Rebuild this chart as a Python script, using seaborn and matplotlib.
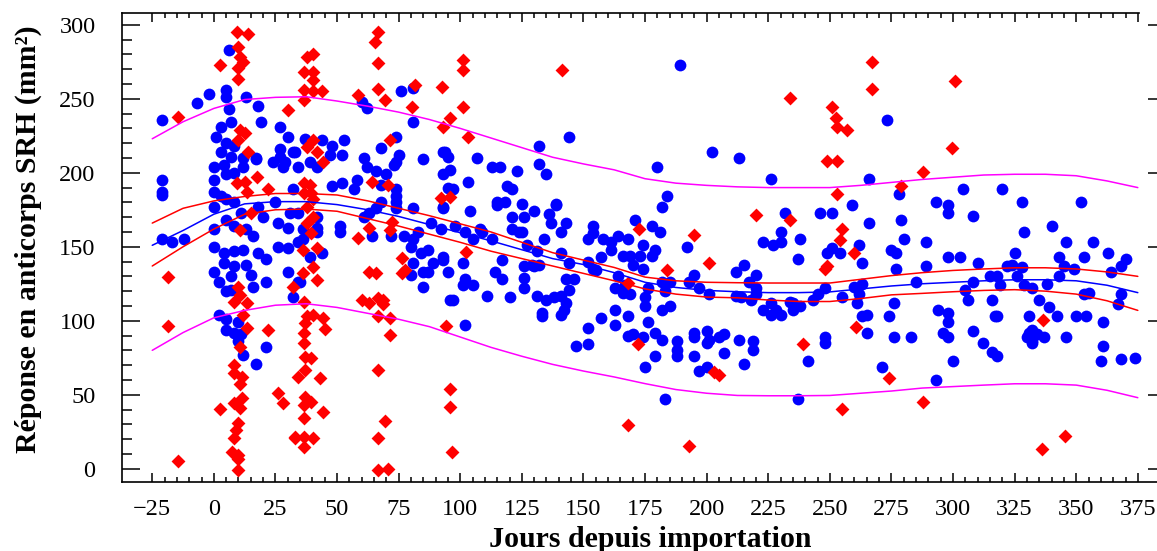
import numpy as np
import pandas as pd
import matplotlib
matplotlib.use("Agg")
import matplotlib.pyplot as plt
from matplotlib.ticker import MultipleLocator, FixedLocator
import seaborn as sns

sns.set_style("ticks")
plt.rcParams['font.family'] = ['Liberation Serif', 'DejaVu Serif']
plt.rcParams['text.color'] = 'black'
plt.rcParams['axes.labelcolor'] = 'black'
plt.rcParams['xtick.color'] = 'black'
plt.rcParams['ytick.color'] = 'black'
plt.rcParams['axes.edgecolor'] = 'black'

# --- points bleus (cercles) : jours, réponse ---
blue_days = [
    6, -7, -2, 5, 5, 13, 18, -21, 6, 19, 3, 7, 1, 27, 30, 5, 8, 3, 7, 12, 17, 27, 32, 24, 29,
    0, 4, 8, 5, -21, 0, -21, -21, 0, 3, 5, 0, 8, 11, 18, 25, 0, 5, 8, 13, 20, 16, -21, -17, -12,
    0, 4, 8, 12, 18, 26, 30, 34, 4, 8, 13, 21, 0, 7, 15, 30,
    2, 7, 5, 16, 21, 2, 5, 10, 5, 8, 11, 10, 21, 12, 17, 32, 34,
    37, 44, 48, 53, 52, 47, 33, 27, 28, 34, 39, 42, 17, 12, 61, 62, 68, 74, 75, 73, 85, 81, 76, 81,
    60, 62, 93, 93, 95, 58, 48, 52, 57, 66, 70, 68, 74, 74, 68, 32, 31, 34, 42, 63, 66, 74, 81, 74,
    26, 30, 36, 42, 51, 51, 42, 36, 39, 44, 64, 72, 77, 81, 83, 88, 92, 61, 80, 84, 87, 81, 89, 93,
    87, 96, 35, 80, 85, 85, 95, 96,
    74, 94, 95, 107, 113, 116, 123, 132, 144, 132, 135, 103, 97, 119, 121, 115, 118, 125, 139, 93,
    104, 121, 126, 130, 136, 137, 143, 121, 125, 141, 154, 152, 108, 113, 134, 105, 98, 102, 93,
    101, 117, 126, 130, 141, 144, 154,
    93, 115, 139, 124, 109, 127, 129, 132, 131, 102, 114, 117, 105, 101, 126, 126, 131, 133, 133,
    111, 120, 97, 102, 135, 138, 141, 143, 144, 143, 141, 142, 146, 152, 155, 157, 154, 158, 161,
    161, 164, 168, 171, 174, 178, 181, 179, 178, 166, 169, 173, 170, 174, 164, 167, 163, 166, 169,
    176, 175, 175, 182, 185, 183, 182, 185, 163, 157, 163, 152, 147, 152, 168, 168, 170, 174, 176,
    179, 182, 175, 179, 188, 188, 188, 195, 195, 200, 201, 205, 207, 207, 195, 200, 197, 200, 213,
    219, 215, 219, 230, 192, 195, 193, 197, 201, 202, 213, 226, 232, 230, 223, 227, 237, 215, 220,
    212, 217, 220, 212, 214, 218, 223, 220, 226, 230, 226, 228, 234, 237, 183, 189, 184, 182, 180,
    266, 266, 246, 251, 259, 262, 238, 251, 249, 254, 263, 263, 235, 235, 238, 243, 245, 248, 255,
    260, 262, 261, 263, 265, 265, 248, 248, 241, 271, 276, 274, 276, 277, 275, 277, 280, 279, 278,
    289, 289, 285, 283, 293, 293, 298, 298, 304, 308, 298, 303, 310, 305, 308, 306, 294, 298, 298,
    296, 298, 300, 308, 312, 316, 318, 317, 318, 315, 318, 319, 322, 324, 325, 326, 328, 329, 332,
    320, 328, 329, 340, 346, 343, 345, 349, 343, 338, 352, 357, 353, 363, 370, 368, 364, 355, 353,
    368, 367, 335, 339, 342, 331, 350, 354, 361, 331, 330, 332, 334, 337, 346, 361, 360, 368, 374,
    273, 332, 332, 316,
]
blue_resp = [
    283, 247, 253, 256, 251, 251, 245, 236, 243, 234, 231, 234, 224, 231, 224, 220, 218, 214, 211, 210, 209, 216, 214, 207, 207,
    204, 205, 200, 199, 195, 195, 187, 185, 187, 184, 182, 177, 180, 173, 177, 180, 162, 168, 164, 162, 170, 157, 155, 153, 155,
    150, 146, 147, 148, 146, 150, 149, 153, 139, 137, 138, 142, 133, 130, 131, 133,
    126, 121, 120, 123, 126, 104, 101, 99, 94, 92, 91, 86, 82, 77, 71, 116, 126,
    223, 222, 218, 222, 212, 212, 214, 211, 204, 204, 207, 204, 210, 204, 210, 204, 217, 224, 212, 205, 209, 234, 255, 257,
    248, 244, 214, 199, 190, 195, 191, 193, 189, 201, 199, 192, 189, 184, 180, 189, 173, 173, 170, 173, 176, 176, 176, 180,
    166, 163, 162, 163, 164, 160, 160, 155, 143, 146, 157, 157, 157, 155, 160, 166, 162, 170, 150, 146, 148, 139, 139, 143,
    133, 202, 126, 131, 133, 123, 133, 114,
    207, 214, 211, 210, 204, 204, 201, 218, 224, 206, 199, 194, 189, 191, 189, 180, 180, 179, 179, 177,
    174, 170, 170, 174, 172, 166, 166, 162, 160, 160, 164, 155, 162, 155, 155, 155, 164, 160, 141,
    139, 141, 137, 137, 146, 139, 135,
    176, 178, 178, 160, 160, 151, 138, 138, 147, 128, 133, 128, 124, 124, 129, 122, 117, 103, 105,
    117, 116, 114, 97, 114, 116, 117, 128, 121, 112, 104, 107, 128, 140, 134, 143, 159, 155, 153,
    148, 157, 155, 168, 151, 164, 160, 148, 144, 144, 144, 144, 138, 135, 130, 124, 122, 119, 118,
    122, 116, 110, 126, 126, 120, 107, 110, 107, 102, 97, 95, 83, 84, 103, 90, 91, 89, 99,
    92, 87, 69, 76, 86, 80, 76, 92, 89, 85, 87, 89, 91, 78, 76, 69, 66, 93,
    87, 80, 71, 86, 153, 150, 131, 126, 122, 118, 214, 210, 196, 173, 160, 153, 151, 142, 138,
    131, 133, 126, 122, 117, 116, 114, 107, 118, 112, 104, 104, 107, 113, 47, 47, 273, 184, 177,
    204, 196, 166, 173, 173, 178, 151, 155, 149, 146, 146, 139, 125, 112, 107, 110, 114, 118, 122, 116,
    123, 118, 112, 103, 104, 92, 89, 85, 73, 69, 89, 103, 112, 135, 148, 146, 155, 168, 186,
    153, 137, 126, 89, 60, 180, 178, 173, 189, 171, 143, 143, 139, 121, 126, 114, 107, 105, 99,
    92, 89, 73, 93, 85, 79, 76, 103, 103, 130, 130, 124, 137, 138, 146, 130, 136, 124, 122,
    189, 180, 160, 164, 153, 143, 137, 135, 130, 125, 180, 153, 143, 146, 142, 137, 133, 119, 118,
    118, 111, 114, 109, 103, 103, 103, 103, 99, 92, 89, 85, 91, 89, 89, 83, 73, 74, 75,
    236, 94, 86, 114,
]

# --- points rouges (losanges) : jours, réponse ---
red_days = [
    9.5, 14, 10, 10.7, 12, 2.6, 10, 10, -14.5, 10.7, 12.7, 10, 14, 17.6, 12.7, 9.5, 13.5, 22, 15,
    10.7, -18.5, 10, 10.7, 8, 13.5, 12, -18.5, 13.5, 22, 10.7, 8, 8, 11.5, 10.7, 26, 28, 8, 11.5,
    10.7, 2.6, 33, 10, 9, 8, 7.5, 10, 10, -14.5, 10,
    38, 40.3, 36.5, 40.3, 40.3, 36.5, 40.3, 44, 36.5, 30, 40.3, 38, 42, 44.5, 36.5, 39, 36.5, 39.5,
    40.3, 38, 40.3, 38, 39.5, 36, 42, 40.3, 36, 42, 32, 36.5, 40.3, 38, 44.5, 37, 36.5, 45, 36.5,
    37, 39.5, 37, 34, 43, 37, 39.5, 36.5, 44.5, 36.5, 33, 36.5, 40.3, 36.5,
    66.7, 65.5, 66.7, 66.7, 69.5, 58.6, 81.7, 80.5, 92.6, 101, 101, 141.3, 101, 96, 93, 103, 71.5,
    64, 70.5, 92, 72.5, 63, 58.6, 71.5, 102.5, 76.4, 77.5, 63, 60, 63, 66.7, 68.5, 71.5, 66.7,
    66.7, 69.5, 66.7, 66.7, 70.5, 71.5, 68.5, 66, 76.4,
    94.3, 96, 96, 96.7, 168, 193, 172, 203, 205, 96, 172.6, 168, 184, 195, 201, 220, 234, 234,
    249, 253, 299.5, 288, 253, 255, 254, 260, 249, 248, 279, 260.6, 239, 274, 288, 255, 336.5,
    345.4, 336, 251, 252.5, 253, 257, 267, 267, 301,
]
red_resp = [
    295, 294, 285, 278, 275, 273, 271, 263.5, 238, 229, 227, 222, 214, 197, 194, 193, 187, 189, 173,
    161.5, 129.5, 123, 117.6, 113, 112, 104, 96.6, 95, 94, 82, 70, 65, 62, 57, 51, 44.6, 44.6, 48,
    41, 40.5, 21, 31, 26, 21, 11.5, 9.5, 6.8, 5.4, -1,
    278, 280, 268, 268, 263, 256, 255, 255, 249, 242.6, 222, 217.6, 214, 207, 193, 192, 186.5, 186.5,
    182, 177, 170, 166, 159.5, 148, 149, 136.5, 132.5, 127.7, 123, 113, 104, 103, 102, 98.6, 92, 94.6, 85,
    75.7, 75, 67, 62, 61.5, 48.6, 45, 43, 38, 34.5, 21.6, 21.6, 21, 15,
    295, 288.5, 274, 256.8, 249, 252.7, 259.5, 244.6, 258, 276, 269.6, 269.6, 244.6, 237, 231, 224, 222,
    194, 192, 183, 167, 163, 156, 161.5, 146.6, 142.6, 134.5, 133, 114, 112, 115.5, 114, 102, 103,
    67, 32, 21, -0.7, 0, 90.5, 111, 132, 132.5,
    96.6, 54, 42, 11.5, 29.7, 15.5, 84.5, 65.5, 63.5, 183.8, 162, 125.7, 134.5, 158, 139, 171.6, 168, 250.7,
    208, 208, 217, 200.7, 186, 162, 154.7, 146, 137, 135, 191, 96, 84.5, 61, 45, 40.5, 100.7,
    22, 13.5, 244.6, 237, 231, 229, 275, 256.8, 262,
]

# --- courbes : ajustement, IC (rouge), IP (magenta) ---
curve_days = [-25, -12.5, 0, 12.5, 25, 37.5, 50, 62.5, 75, 87.5, 100, 112.5, 125, 137.5, 150,
              162.5, 175, 187.5, 200, 212.5, 225, 237.5, 250, 262.5, 275, 287.5, 300, 312.5,
              325, 337.5, 350, 362.5, 375]
fit_mean = [151, 161, 172, 179, 180.5, 180.5, 178.5, 175, 170.5, 165, 159.5, 154, 148, 142, 138,
            132.5, 126, 122.5, 120.5, 119.6, 119, 119, 119.5, 121.5, 123.5, 125, 126, 127,
            127.7, 127.7, 127, 124, 119]
ci_upper = [166, 176, 181, 184, 186, 186, 185, 181, 176, 171, 165.5, 160, 153, 146, 141,
            136, 129.5, 127, 126, 125.7, 125.5, 125.5, 125.5, 128, 130.5, 132.5, 134, 135,
            135.8, 135.8, 135, 133, 130]
ci_lower = [137, 150, 162, 172, 175, 175.5, 174, 169, 164, 158.5, 153, 147, 142, 137, 132,
            127, 121.5, 118, 116, 115.5, 114, 113, 113, 115, 117.5, 118.5, 119.6, 120.5,
            121, 120, 118, 113.5, 107]
pi_upper = [223, 234.5, 243.5, 249.5, 251, 251.4, 248.5, 245, 241, 236, 230, 223.5, 217, 210.5, 206,
            202, 196, 193, 191.5, 190.5, 190, 190, 190, 191.5, 193.5, 195.5, 197, 198.5,
            199, 199, 198, 194.5, 190]
pi_lower = [80, 92, 102, 107, 110.5, 111.5, 109, 105, 101, 96, 89, 82, 76, 70.5, 66,
            62, 57.5, 53.5, 51, 49.5, 49.3, 49.3, 49.5, 51, 52.5, 54.5, 55.5, 56.5,
            57.4, 57.4, 56.5, 53, 48]

blue_df = pd.DataFrame({"jours": blue_days, "reponse": blue_resp})
red_df = pd.DataFrame({"jours": red_days, "reponse": red_resp})
curves = pd.DataFrame({"jours": curve_days, "fit": fit_mean, "ci_hi": ci_upper,
                       "ci_lo": ci_lower, "pi_hi": pi_upper, "pi_lo": pi_lower})

fig = plt.figure(figsize=(11.57, 5.51), dpi=100)
ax = fig.add_axes([0.1054, 0.1252, 0.9023, 0.8512])

sns.scatterplot(data=blue_df, x="jours", y="reponse", ax=ax, color="#0000ff",
                marker="o", s=72, linewidth=0, zorder=2)
sns.scatterplot(data=red_df, x="jours", y="reponse", ax=ax, color="#ff0000",
                marker="D", s=50, linewidth=0, zorder=3)

for col, c in [("pi_hi", "#ff00ff"), ("pi_lo", "#ff00ff"),
               ("ci_hi", "#ff0000"), ("ci_lo", "#ff0000"), ("fit", "#0000ff")]:
    sns.lineplot(data=curves, x="jours", y=col, ax=ax, color=c, lw=1.1,
                 sort=False, estimator=None, zorder=4)

ax.set_xlim(-37.3, 386.4)
ax.set_ylim(-9, 308)

ax.xaxis.set_major_locator(MultipleLocator(25))
ax.xaxis.set_minor_locator(FixedLocator([v for v in range(-25, 376, 5) if v % 25 != 0]))
ax.yaxis.set_major_locator(MultipleLocator(50))
ax.yaxis.set_minor_locator(MultipleLocator(10))

ax.tick_params(axis="x", which="both", direction="in", top=True, bottom=True,
               width=1.1, labelsize=17.5, pad=12)
ax.tick_params(axis="x", which="major", length=6.5)
ax.tick_params(axis="x", which="minor", length=3.3)
ax.tick_params(axis="y", which="both", direction="in", left=True, width=1.1,
               labelsize=17.5, pad=19)
ax.tick_params(axis="y", which="major", length=13, right=True)
ax.tick_params(axis="y", which="minor", length=7, right=False)

for side in ["left", "bottom", "top"]:
    ax.spines[side].set_linewidth(1.2)
    ax.spines[side].set_color("black")
ax.spines["right"].set_visible(False)
ax.spines["top"].set_bounds(-37.3, 375.3)

ax.set_xlabel("Jours depuis importation", fontsize=21.5, fontweight="bold")
ax.set_ylabel("Réponse en anticorps SRH (mm²)", fontsize=21.5, fontweight="bold")
ax.xaxis.set_label_coords(0.5057, -0.094)
ax.xaxis.label.set_verticalalignment("top")
ax.yaxis.set_label_coords(-0.0766, 0.518)

fig.savefig("out.png", dpi=100)
